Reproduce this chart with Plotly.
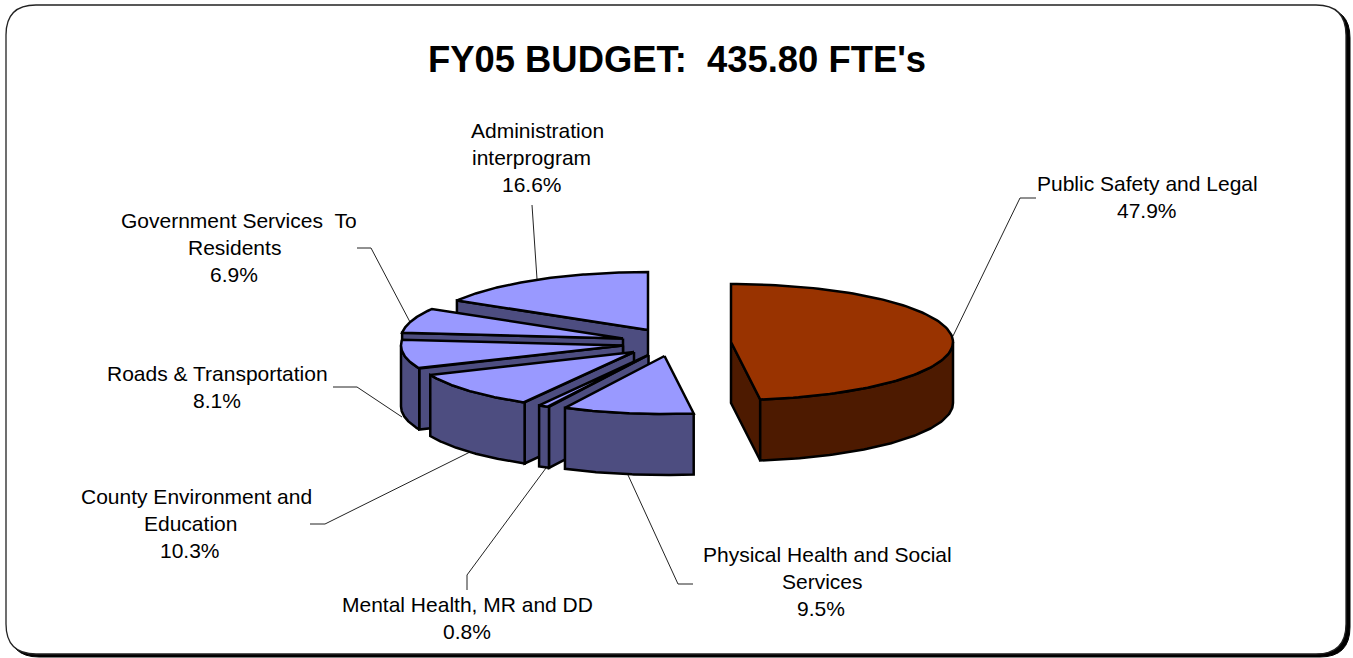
import numpy as np
import plotly.graph_objects as go

# ---- data ----
categories = ["Public Safety and Legal", "Physical Health and Social Services",
              "Mental Health, MR and DD", "County Environment and Education",
              "Roads & Transportation", "Government Services To Residents",
              "Administration interprogram"]
shares = [47.9, 9.5, 0.8, 10.3, 8.1, 6.9, 16.6]
pct_labels = ["47.9%", "9.5%", "0.8%", "10.3%", "8.1%", "6.9%", "16.6%"]
title_text = "FY05 BUDGET:\u00a0\u00a0435.80 FTE's"

# ---- pie geometry (layout only) ----
RX, RY, DEPTH = 222, 58, 61
centers = [(731, 342), (664.5, 356), (648.5, 355), (634, 352), (623, 345.5), (623, 338.5), (648, 330)]
TOP = ["#993300"] + ["#9999FF"] * 6
SIDE = ["#4D1A00"] + ["#4D4D80"] * 6
draw_order = [0, 6, 5, 4, 3, 2, 1]
FONT = "Liberation Sans, Arial, sans-serif"

# label lines: (text, x centre), first-line y
label_layout = [
    (183, [("Public Safety and Legal", 1147), ("47.9%", 1147)]),
    (554, [("Physical Health and Social", 827), ("Services", 822), ("9.5%", 821)]),
    (604, [("Mental Health, MR and DD", 467), ("0.8%", 467)]),
    (496, [("County Environment and", 196), ("Education", 190), ("10.3%", 190)]),
    (373, [("Roads & Transportation", 217), ("8.1%", 217)]),
    (220, [("Government Services\u00a0\u00a0To", 239), ("Residents", 234), ("6.9%", 234)]),
    (130, [("Administration", 537), ("interprogram", 531), ("16.6%", 532)]),
]
leaders = [
    [(1036, 198), (1020, 198), (953, 336)],
    [(693, 584), (678, 584), (628, 475)],
    [(467, 590), (467, 575), (546, 468)],
    [(310, 524), (325, 524), (470, 452)],
    [(333, 387), (357, 387), (402, 417)],
    [(357, 248), (371, 248), (410, 322)],
    [(532, 205), (537, 279)],
]


def pt(c, deg):
    a = np.radians(deg)
    return c[0] + RX * np.sin(a), c[1] - RY * np.cos(a)


fig = go.Figure()


def poly(xs, ys, fill):
    fig.add_trace(go.Scatter(x=list(xs), y=list(ys), mode="lines", fill="toself", fillcolor=fill,
                             line=dict(color="#000000", width=2.5), hoverinfo="skip", showlegend=False))


# the rounded percentages add to 100.1, so the last edge is held at the full circle
edges = np.minimum(np.concatenate([[0], np.cumsum(shares)]) * 3.6, 360)
for i in draw_order:
    c, a0, a1 = centers[i], edges[i], edges[i + 1]
    # visible cut faces
    for ang, vis in ((a0, a0 >= 180 and a0 < 360), (a1, a1 < 180 and a1 > 0)):
        if vis:
            x, y = pt(c, ang)
            poly([c[0], x, x, c[0], c[0]], [c[1], y, y + DEPTH, c[1] + DEPTH, c[1]], SIDE[i])
    # outer wall: only the part facing the viewer
    w0, w1 = max(a0, 90), min(a1, 270)
    if w1 > w0:
        t = np.linspace(w0, w1, 80)
        xt, yt = pt(c, t)
        poly(np.r_[xt, xt[::-1], xt[0]], np.r_[yt, yt[::-1] + DEPTH, yt[0]], SIDE[i])
    # top
    t = np.linspace(a0, a1, 120)
    xt, yt = pt(c, t)
    poly(np.r_[c[0], xt, c[0]], np.r_[c[1], yt, c[1]], TOP[i])

# ---- frame and leaders ----
def rrect(x0, y0, x1, y1, r):
    return (f"M{x0+r},{y0} L{x1-r},{y0} Q{x1},{y0} {x1},{y0+r} L{x1},{y1-r} Q{x1},{y1} {x1-r},{y1} "
            f"L{x0+r},{y1} Q{x0},{y1} {x0},{y1-r} L{x0},{y0+r} Q{x0},{y0} {x0+r},{y0} Z")


shapes = [
    dict(type="path", path=rrect(9, 8, 1350, 657, 30), fillcolor="#000000", line=dict(color="#000000", width=1), layer="below"),
    dict(type="path", path=rrect(6, 5, 1346, 654, 30), fillcolor="#FFFFFF", line=dict(color="#222222", width=1.3), layer="below"),
]
for pts in leaders:
    d = "M" + " L".join(f"{x},{y}" for x, y in pts)
    shapes.append(dict(type="path", path=d, line=dict(color="#222222", width=1), layer="below"))

annotations = [dict(x=677, y=59.5, text=f"<b>{title_text}</b>", showarrow=False, xanchor="center", yanchor="middle",
                    font=dict(family=FONT, size=36.4, color="#000000"))]
for first_y, lines in label_layout:
    for k, (txt, xc) in enumerate(lines):
        annotations.append(dict(x=xc, y=first_y + 27 * k, text=txt, showarrow=False, xanchor="center",
                                yanchor="middle", font=dict(family=FONT, size=21, color="#000000")))
# the source clips the long label at its text box edge
annotations.append(dict(x=356, y=220, text="\u00a0", showarrow=False, xanchor="left", yanchor="middle",
                        width=10, height=24, borderpad=0, bgcolor="#FFFFFF", font=dict(size=10)))

fig.update_layout(
    width=1353, height=658, margin=dict(l=0, r=0, t=0, b=0), autosize=False,
    paper_bgcolor="#FFFFFF", plot_bgcolor="rgba(0,0,0,0)", showlegend=False,
    xaxis=dict(range=[0, 1353], visible=False, fixedrange=True),
    yaxis=dict(range=[658, 0], visible=False, fixedrange=True),
    shapes=shapes, annotations=annotations,
)
fig.write_html("out.html", config={"displayModeBar": False}, default_width=1353, default_height=658,
               include_plotlyjs=True,
               post_script="document.body.style.margin='0';document.documentElement.style.overflow='hidden';")
